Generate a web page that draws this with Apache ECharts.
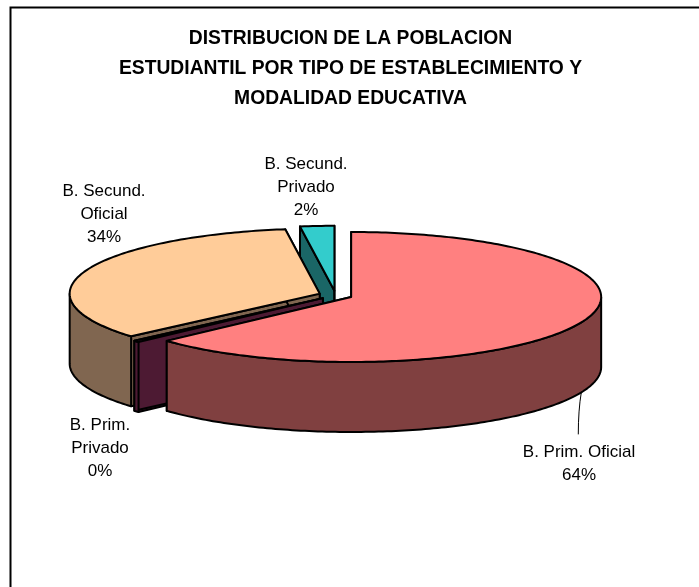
<!DOCTYPE html>
<html>
<head>
<meta charset="utf-8">
<style>html,body{margin:0;padding:0;background:#fff}#c{width:699px;height:587px}</style>
<script src="https://cdn.jsdelivr.net/npm/echarts@6/dist/echarts.min.js"></script>
</head>
<body>
<div id="c"></div>
<script>
// ---- data ----
const titleLines = ['DISTRIBUCION DE LA POBLACION', 'ESTUDIANTIL POR TIPO DE ESTABLECIMIENTO Y', 'MODALIDAD EDUCATIVA'];
const categories = ['B. Prim. Oficial', 'B. Prim. Privado', 'B. Secund. Oficial', 'B. Secund. Privado'];
const shares = [63.2, 0.4, 34.2, 2.2];
const percentLabels = ['64%', '0%', '34%', '2%'];
const labelLines = [['B. Prim. Oficial'], ['B. Prim.', 'Privado'], ['B. Secund.', 'Oficial'], ['B. Secund.', 'Privado']];

// ---- styling and layout ----
const topColors = ['#FF8080', '#993366', '#FFCC99', '#33CCCC'];
const sideColors = ['#804040', '#4D1A33', '#806650', '#1A6666'];
const labelAnchors = [[579, 440.5], [100, 414], [104, 180], [306, 153]];
const G = { cx: 335.6, cy: 295.2, rx: 250, ry: 65, depth: 70, explode: 17 };

const total = shares.reduce((a, b) => a + b, 0);
const rad = d => d * Math.PI / 180;

function renderSlice(params, api) {
  const i = params.dataIndex;
  const before = shares.slice(0, i).reduce((a, b) => a + b, 0);
  const a0 = before / total * 360, a1 = (before + api.value(0)) / total * 360;
  const mid = rad((a0 + a1) / 2);
  const cx = G.cx + G.explode * Math.sin(mid);
  const cy = G.cy - G.explode * (G.ry / G.rx) * Math.cos(mid);
  const pt = (deg, dy) => [cx + G.rx * Math.sin(rad(deg)), cy - G.ry * Math.cos(rad(deg)) + (dy || 0)];
  const arc = (from, to, dy) => {
    const out = [], n = Math.max(2, Math.ceil(Math.abs(to - from)));
    for (let k = 0; k <= n; k++) out.push(pt(from + (to - from) * k / n, dy));
    return out;
  };
  const edge = { stroke: '#000', lineWidth: 2, lineJoin: 'round' };
  const poly = (points, fill) => ({ type: 'polygon', shape: { points }, style: Object.assign({ fill }, edge) });
  const v = [cx, cy], d = G.depth;
  const kids = [];
  [a0, a1].forEach(a => {
    kids.push(poly([v, pt(a), pt(a, d), [cx, cy + d]], sideColors[i]));
  });
  const w0 = Math.max(a0, 90), w1 = Math.min(a1, 270);
  if (w1 > w0) kids.push(poly(arc(w0, w1).concat(arc(w1, w0, d)), sideColors[i]));
  kids.push(poly([v].concat(arc(a0, a1)), topColors[i]));

  if (i === 0) {
    const p = pt(113, d);
    kids.push({ type: 'path', shape: { pathData: `M${p[0]} ${p[1]} Q${p[0] - 3} ${p[1] + 18} ${p[0] - 3} ${p[1] + 42}` },
      style: { fill: null, stroke: '#000', lineWidth: 1 } });
  }
  kids.push({ type: 'text', x: labelAnchors[i][0], y: labelAnchors[i][1], z2: 50,
    style: { text: labelLines[i].concat(percentLabels[i]).join('\n'), fill: '#000', align: 'center', verticalAlign: 'top',
      font: '17px "Liberation Sans", Arial, sans-serif', lineHeight: 23 } });
  return { type: 'group', children: kids };
}

const chart = echarts.init(document.getElementById('c'), null, { renderer: 'canvas' });
chart.setOption({
  animation: false,
  backgroundColor: '#fff',
  title: {
    text: titleLines.join('\n'), left: 345.5, top: 19, textAlign: 'center',
    textStyle: { fontFamily: '"Liberation Sans", Arial, sans-serif', fontSize: 19.3, fontWeight: 'bold', color: '#000', lineHeight: 30 }
  },
  graphic: [{ type: 'polyline', shape: { points: [[10.5, 587], [10.5, 7.5], [699, 7.5]] }, style: { stroke: '#000', lineWidth: 2, fill: null } }],
  series: [{
    type: 'custom', coordinateSystem: 'none', silent: true,
    renderItem: (p, api) => {
      const el = renderSlice(p, api);
      // paint back-to-front: the last data item is the rear slice
      el.children.forEach(c => { if (c.z2 === undefined) c.z2 = 10 - p.dataIndex; });
      return el;
    },
    encode: { value: 0 },
    data: shares.map((v, i) => ({ name: categories[i], value: [v] }))
  }]
});
</script>
</body>
</html>
